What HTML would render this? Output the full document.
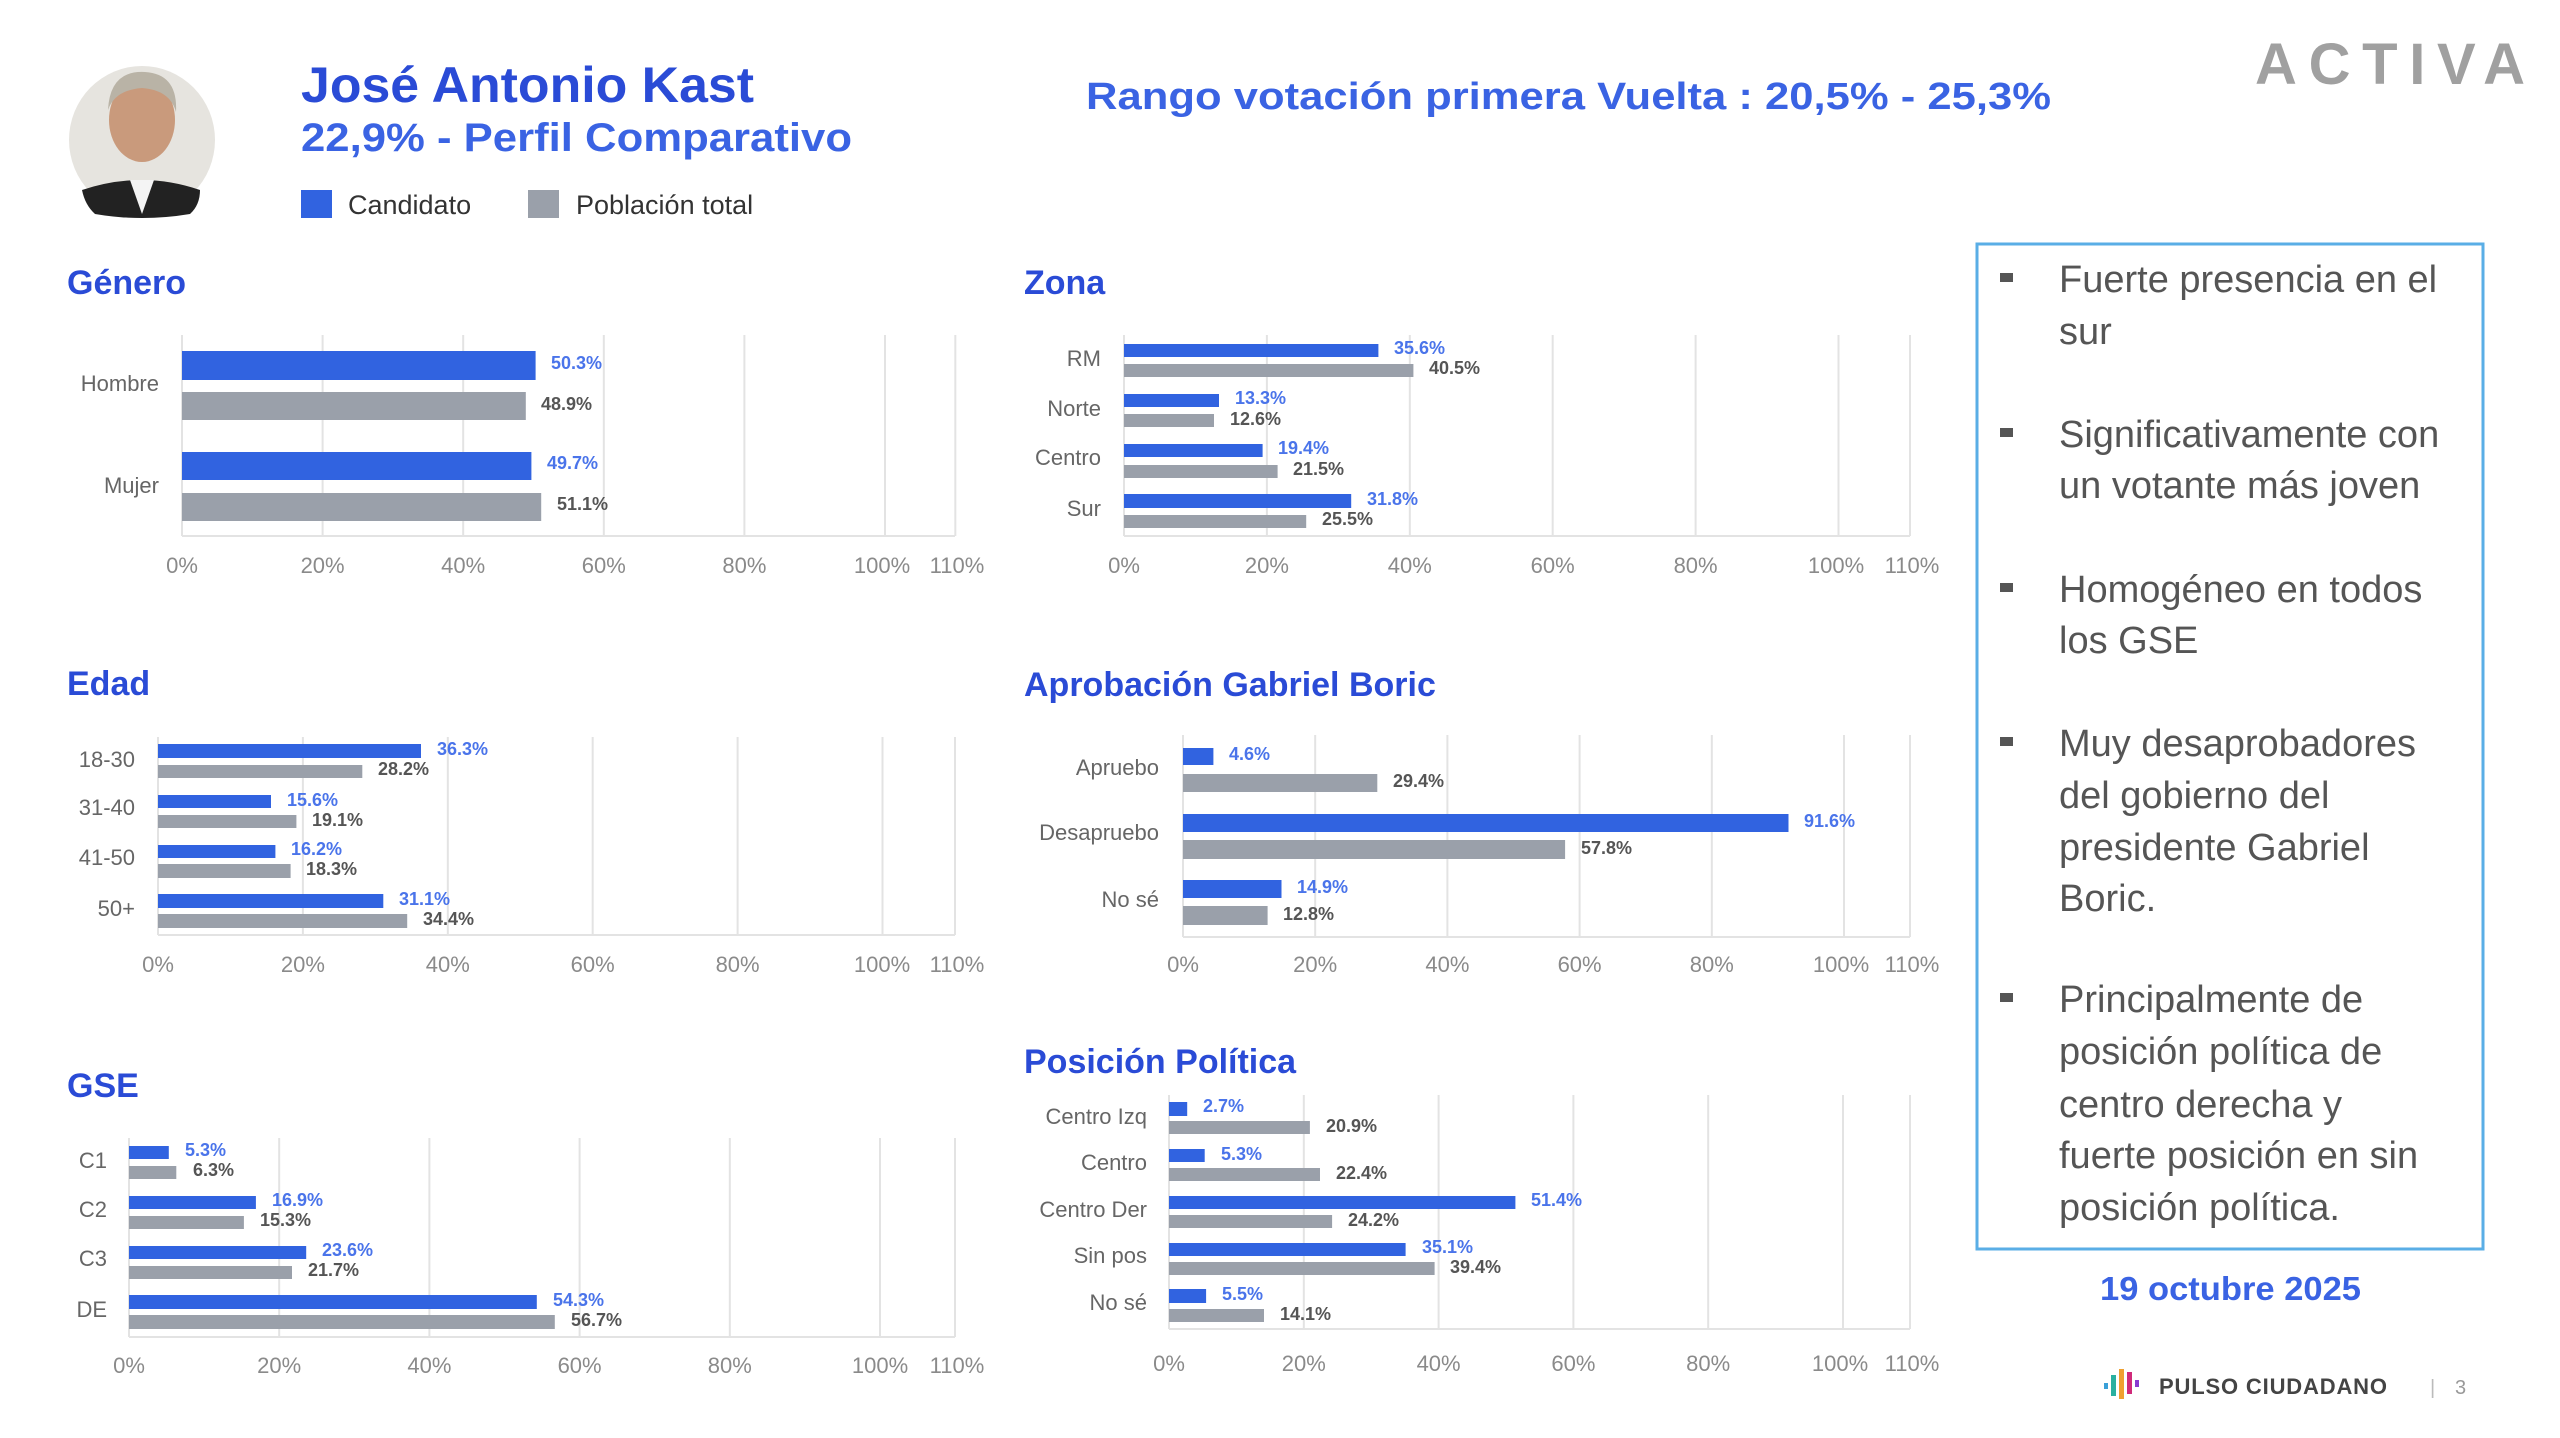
<!DOCTYPE html>
<html><head><meta charset="utf-8"><style>
html,body{margin:0;padding:0;background:#fff;}
svg{display:block;font-family:"Liberation Sans",sans-serif;}
.t{font-weight:bold;fill:#2a4bd6;font-size:34px;}
.g{stroke:#e3e3e3;stroke-width:2;}
.b{fill:#3163e0;}
.p{fill:#9aa0aa;}
.tk{fill:#8a8a8a;font-size:22px;text-anchor:middle;}
.cl{fill:#666;font-size:22px;text-anchor:end;dominant-baseline:middle;}
.vb{fill:#4a74ea;font-size:18px;font-weight:bold;dominant-baseline:middle;}
.vp{fill:#555;font-size:18px;font-weight:bold;dominant-baseline:middle;}
.bl{fill:#555;font-size:38px;}
</style></head><body>
<svg width="2560" height="1438" viewBox="0 0 2560 1438" xmlns="http://www.w3.org/2000/svg">
<!-- photo -->
<ellipse cx="142" cy="140" rx="73" ry="74" fill="#e6e4df"/>
<path d="M82,190 Q142,170 200,190 Q200,205 190,214 Q142,222 95,214 Q85,205 82,190Z" fill="#222"/>
<ellipse cx="142" cy="120" rx="33" ry="42" fill="#c99a7c"/>
<path d="M108,110 Q110,70 145,72 Q178,74 176,112 Q170,90 142,88 Q115,90 108,110Z" fill="#b9b3a6"/>
<path d="M130,180 L142,214 L154,180Z" fill="#f4f4f4"/>

<text x="301" y="102" font-size="50" font-weight="bold" fill="#2a4bd6" textLength="453" lengthAdjust="spacingAndGlyphs">José Antonio Kast</text>
<text x="301" y="151" font-size="40" font-weight="bold" fill="#3a63e3" textLength="551" lengthAdjust="spacingAndGlyphs">22,9% - Perfil Comparativo</text>
<rect x="301" y="190" width="31" height="28" fill="#3163e0"/>
<text x="348" y="214" font-size="27" fill="#333">Candidato</text>
<rect x="528" y="190" width="31" height="28" fill="#9aa0aa"/>
<text x="576" y="214" font-size="27" fill="#333">Población total</text>
<text x="1086" y="109" font-size="38" font-weight="bold" fill="#3a63e3" textLength="965" lengthAdjust="spacingAndGlyphs">Rango votación primera Vuelta : 20,5% - 25,3%</text>
<text x="2255" y="84" font-size="58" fill="#a0a0a0" font-weight="bold" textLength="270" lengthAdjust="spacing">ACTIVA</text>

<!-- Genero -->
<text class="t" x="67" y="294">Género</text>
<g class="g"><line x1="322.6" y1="335" x2="322.6" y2="536"/><line x1="463.2" y1="335" x2="463.2" y2="536"/><line x1="603.8" y1="335" x2="603.8" y2="536"/><line x1="744.4" y1="335" x2="744.4" y2="536"/><line x1="885" y1="335" x2="885" y2="536"/><line x1="955.3" y1="335" x2="955.3" y2="536"/><line x1="182" y1="335" x2="182" y2="536"/><line x1="182" y1="536" x2="955" y2="536"/></g>
<rect class="b" x="182" y="351" width="353.6" height="29"/><rect class="p" x="182" y="392" width="343.8" height="28"/>
<rect class="b" x="182" y="452" width="349.4" height="28"/><rect class="p" x="182" y="493" width="359.2" height="28"/>
<text class="vb" x="551" y="364">50.3%</text><text class="vp" x="541" y="405">48.9%</text>
<text class="vb" x="547" y="464">49.7%</text><text class="vp" x="557" y="505">51.1%</text>
<text class="cl" x="159" y="385">Hombre</text><text class="cl" x="159" y="487">Mujer</text>
<g class="tk"><text x="182" y="573">0%</text><text x="322.6" y="573">20%</text><text x="463.2" y="573">40%</text><text x="603.8" y="573">60%</text><text x="744.4" y="573">80%</text><text x="882" y="573">100%</text><text x="957" y="573">110%</text></g>

<!-- Zona -->
<text class="t" x="1024" y="294">Zona</text>
<g class="g"><line x1="1124" y1="335" x2="1124" y2="536"/><line x1="1266.9" y1="335" x2="1266.9" y2="536"/><line x1="1409.8" y1="335" x2="1409.8" y2="536"/><line x1="1552.7" y1="335" x2="1552.7" y2="536"/><line x1="1695.6" y1="335" x2="1695.6" y2="536"/><line x1="1838.5" y1="335" x2="1838.5" y2="536"/><line x1="1910" y1="335" x2="1910" y2="536"/><line x1="1124" y1="536" x2="1910" y2="536"/></g>
<rect class="b" x="1124" y="344" width="254.4" height="13"/><rect class="p" x="1124" y="364" width="289.4" height="13"/>
<rect class="b" x="1124" y="394" width="95" height="13"/><rect class="p" x="1124" y="414" width="90" height="13"/>
<rect class="b" x="1124" y="444" width="138.6" height="13"/><rect class="p" x="1124" y="465" width="153.6" height="13"/>
<rect class="b" x="1124" y="494" width="227.2" height="14"/><rect class="p" x="1124" y="515" width="182.2" height="13"/>
<text class="vb" x="1394" y="349">35.6%</text><text class="vp" x="1429" y="369">40.5%</text>
<text class="vb" x="1235" y="399">13.3%</text><text class="vp" x="1230" y="420">12.6%</text>
<text class="vb" x="1278" y="449">19.4%</text><text class="vp" x="1293" y="470">21.5%</text>
<text class="vb" x="1367" y="500">31.8%</text><text class="vp" x="1322" y="520">25.5%</text>
<text class="cl" x="1101" y="360">RM</text><text class="cl" x="1101" y="410">Norte</text><text class="cl" x="1101" y="459">Centro</text><text class="cl" x="1101" y="510">Sur</text>
<g class="tk"><text x="1124" y="573">0%</text><text x="1266.9" y="573">20%</text><text x="1409.8" y="573">40%</text><text x="1552.7" y="573">60%</text><text x="1695.6" y="573">80%</text><text x="1836" y="573">100%</text><text x="1912" y="573">110%</text></g>

<!-- Edad -->
<text class="t" x="67" y="695">Edad</text>
<g class="g"><line x1="158" y1="737" x2="158" y2="935"/><line x1="302.9" y1="737" x2="302.9" y2="935"/><line x1="447.8" y1="737" x2="447.8" y2="935"/><line x1="592.7" y1="737" x2="592.7" y2="935"/><line x1="737.6" y1="737" x2="737.6" y2="935"/><line x1="882.5" y1="737" x2="882.5" y2="935"/><line x1="955" y1="737" x2="955" y2="935"/><line x1="158" y1="935" x2="955" y2="935"/></g>
<rect class="b" x="158" y="744" width="263" height="14"/><rect class="p" x="158" y="765" width="204.3" height="13"/>
<rect class="b" x="158" y="795" width="113" height="13"/><rect class="p" x="158" y="815" width="138.4" height="13"/>
<rect class="b" x="158" y="845" width="117.4" height="13"/><rect class="p" x="158" y="864" width="132.6" height="14"/>
<rect class="b" x="158" y="894" width="225.3" height="14"/><rect class="p" x="158" y="914" width="249.2" height="14"/>
<text class="vb" x="437" y="750">36.3%</text><text class="vp" x="378" y="770">28.2%</text>
<text class="vb" x="287" y="801">15.6%</text><text class="vp" x="312" y="821">19.1%</text>
<text class="vb" x="291" y="850">16.2%</text><text class="vp" x="306" y="870">18.3%</text>
<text class="vb" x="399" y="900">31.1%</text><text class="vp" x="423" y="920">34.4%</text>
<text class="cl" x="135" y="761">18-30</text><text class="cl" x="135" y="809">31-40</text><text class="cl" x="135" y="859">41-50</text><text class="cl" x="135" y="910">50+</text>
<g class="tk"><text x="158" y="972">0%</text><text x="302.9" y="972">20%</text><text x="447.8" y="972">40%</text><text x="592.7" y="972">60%</text><text x="737.6" y="972">80%</text><text x="882" y="972">100%</text><text x="957" y="972">110%</text></g>

<!-- Aprobacion -->
<text class="t" x="1024" y="696">Aprobación Gabriel Boric</text>
<g class="g"><line x1="1183" y1="735" x2="1183" y2="937"/><line x1="1315.2" y1="735" x2="1315.2" y2="937"/><line x1="1447.4" y1="735" x2="1447.4" y2="937"/><line x1="1579.6" y1="735" x2="1579.6" y2="937"/><line x1="1711.8" y1="735" x2="1711.8" y2="937"/><line x1="1844" y1="735" x2="1844" y2="937"/><line x1="1910" y1="735" x2="1910" y2="937"/><line x1="1183" y1="937" x2="1910" y2="937"/></g>
<rect class="b" x="1183" y="748" width="30.4" height="17"/><rect class="p" x="1183" y="774" width="194.3" height="18"/>
<rect class="b" x="1183" y="814" width="605.5" height="18"/><rect class="p" x="1183" y="840" width="382.1" height="19"/>
<rect class="b" x="1183" y="880" width="98.5" height="18"/><rect class="p" x="1183" y="906" width="84.6" height="19"/>
<text class="vb" x="1229" y="755">4.6%</text><text class="vp" x="1393" y="782">29.4%</text>
<text class="vb" x="1804" y="822">91.6%</text><text class="vp" x="1581" y="849">57.8%</text>
<text class="vb" x="1297" y="888">14.9%</text><text class="vp" x="1283" y="915">12.8%</text>
<text class="cl" x="1159" y="769">Apruebo</text><text class="cl" x="1159" y="834">Desapruebo</text><text class="cl" x="1159" y="901">No sé</text>
<g class="tk"><text x="1183" y="972">0%</text><text x="1315.2" y="972">20%</text><text x="1447.4" y="972">40%</text><text x="1579.6" y="972">60%</text><text x="1711.8" y="972">80%</text><text x="1841" y="972">100%</text><text x="1912" y="972">110%</text></g>

<!-- GSE -->
<text class="t" x="67" y="1097">GSE</text>
<g class="g"><line x1="129" y1="1138" x2="129" y2="1337"/><line x1="279.2" y1="1138" x2="279.2" y2="1337"/><line x1="429.4" y1="1138" x2="429.4" y2="1337"/><line x1="579.6" y1="1138" x2="579.6" y2="1337"/><line x1="729.8" y1="1138" x2="729.8" y2="1337"/><line x1="880" y1="1138" x2="880" y2="1337"/><line x1="955" y1="1138" x2="955" y2="1337"/><line x1="129" y1="1337" x2="955" y2="1337"/></g>
<rect class="b" x="129" y="1146" width="39.8" height="13"/><rect class="p" x="129" y="1166" width="47.3" height="13"/>
<rect class="b" x="129" y="1196" width="126.9" height="13"/><rect class="p" x="129" y="1216" width="114.9" height="13"/>
<rect class="b" x="129" y="1246" width="177.2" height="13"/><rect class="p" x="129" y="1266" width="163" height="13"/>
<rect class="b" x="129" y="1295" width="407.8" height="14"/><rect class="p" x="129" y="1315" width="425.8" height="14"/>
<text class="vb" x="185" y="1151">5.3%</text><text class="vp" x="193" y="1171">6.3%</text>
<text class="vb" x="272" y="1201">16.9%</text><text class="vp" x="260" y="1221">15.3%</text>
<text class="vb" x="322" y="1251">23.6%</text><text class="vp" x="308" y="1271">21.7%</text>
<text class="vb" x="553" y="1301">54.3%</text><text class="vp" x="571" y="1321">56.7%</text>
<text class="cl" x="107" y="1162">C1</text><text class="cl" x="107" y="1211">C2</text><text class="cl" x="107" y="1260">C3</text><text class="cl" x="107" y="1311">DE</text>
<g class="tk"><text x="129" y="1373">0%</text><text x="279.2" y="1373">20%</text><text x="429.4" y="1373">40%</text><text x="579.6" y="1373">60%</text><text x="729.8" y="1373">80%</text><text x="880" y="1373">100%</text><text x="957" y="1373">110%</text></g>

<!-- Posicion -->
<text class="t" x="1024" y="1073">Posición Política</text>
<g class="g"><line x1="1169" y1="1095" x2="1169" y2="1329"/><line x1="1303.8" y1="1095" x2="1303.8" y2="1329"/><line x1="1438.6" y1="1095" x2="1438.6" y2="1329"/><line x1="1573.4" y1="1095" x2="1573.4" y2="1329"/><line x1="1708.2" y1="1095" x2="1708.2" y2="1329"/><line x1="1843" y1="1095" x2="1843" y2="1329"/><line x1="1910" y1="1095" x2="1910" y2="1329"/><line x1="1169" y1="1329" x2="1910" y2="1329"/></g>
<rect class="b" x="1169" y="1102" width="18.2" height="14"/><rect class="p" x="1169" y="1121" width="140.9" height="13"/>
<rect class="b" x="1169" y="1149" width="35.7" height="13"/><rect class="p" x="1169" y="1168" width="151" height="13"/>
<rect class="b" x="1169" y="1196" width="346.4" height="13"/><rect class="p" x="1169" y="1215" width="163.1" height="13"/>
<rect class="b" x="1169" y="1243" width="236.6" height="13"/><rect class="p" x="1169" y="1262" width="265.6" height="13"/>
<rect class="b" x="1169" y="1289" width="37.1" height="14"/><rect class="p" x="1169" y="1309" width="95" height="13"/>
<text class="vb" x="1203" y="1107">2.7%</text><text class="vp" x="1326" y="1127">20.9%</text>
<text class="vb" x="1221" y="1155">5.3%</text><text class="vp" x="1336" y="1174">22.4%</text>
<text class="vb" x="1531" y="1201">51.4%</text><text class="vp" x="1348" y="1221">24.2%</text>
<text class="vb" x="1422" y="1248">35.1%</text><text class="vp" x="1450" y="1268">39.4%</text>
<text class="vb" x="1222" y="1295">5.5%</text><text class="vp" x="1280" y="1315">14.1%</text>
<text class="cl" x="1147" y="1118">Centro Izq</text><text class="cl" x="1147" y="1164">Centro</text><text class="cl" x="1147" y="1211">Centro Der</text><text class="cl" x="1147" y="1257">Sin pos</text><text class="cl" x="1147" y="1304">No sé</text>
<g class="tk"><text x="1169" y="1371">0%</text><text x="1303.8" y="1371">20%</text><text x="1438.6" y="1371">40%</text><text x="1573.4" y="1371">60%</text><text x="1708.2" y="1371">80%</text><text x="1840" y="1371">100%</text><text x="1912" y="1371">110%</text></g>

<!-- right panel -->
<rect x="1977" y="244" width="506" height="1005" fill="none" stroke="#5aaee6" stroke-width="3"/>
<g fill="#555"><rect x="2000" y="273" width="13" height="9"/><rect x="2000" y="428" width="13" height="9"/><rect x="2000" y="583" width="13" height="9"/><rect x="2000" y="737" width="13" height="9"/><rect x="2000" y="993" width="13" height="9"/></g>
<g class="bl">
<text x="2059" y="292">Fuerte presencia en el</text><text x="2059" y="344">sur</text>
<text x="2059" y="447">Significativamente con</text><text x="2059" y="498">un votante más joven</text>
<text x="2059" y="602">Homogéneo en todos</text><text x="2059" y="653">los GSE</text>
<text x="2059" y="756">Muy desaprobadores</text><text x="2059" y="808">del gobierno del</text><text x="2059" y="860">presidente  Gabriel</text><text x="2059" y="911">Boric.</text>
<text x="2059" y="1012">Principalmente de</text><text x="2059" y="1064">posición política de</text><text x="2059" y="1117">centro  derecha y</text><text x="2059" y="1168">fuerte posición en sin</text><text x="2059" y="1220">posición política.</text>
</g>
<text x="2100" y="1300" font-size="33" font-weight="bold" fill="#3a63e3" textLength="261" lengthAdjust="spacingAndGlyphs">19 octubre 2025</text>
<g><rect x="2104" y="1383" width="4" height="6" fill="#3aa0d8"/><rect x="2111" y="1375" width="5" height="21" fill="#2ab0a0"/><rect x="2119" y="1369" width="5" height="30" fill="#f0a030"/><rect x="2127" y="1372" width="5" height="22" fill="#d02a7a"/><rect x="2135" y="1380" width="4" height="7" fill="#8a3ad0"/></g>
<text x="2159" y="1394" font-size="22" font-weight="bold" fill="#444" textLength="228" lengthAdjust="spacing">PULSO CIUDADANO</text>
<text x="2430" y="1394" font-size="20" fill="#bbb">|</text><text x="2455" y="1394" font-size="20" fill="#999">3</text>
</svg>
</body></html>
